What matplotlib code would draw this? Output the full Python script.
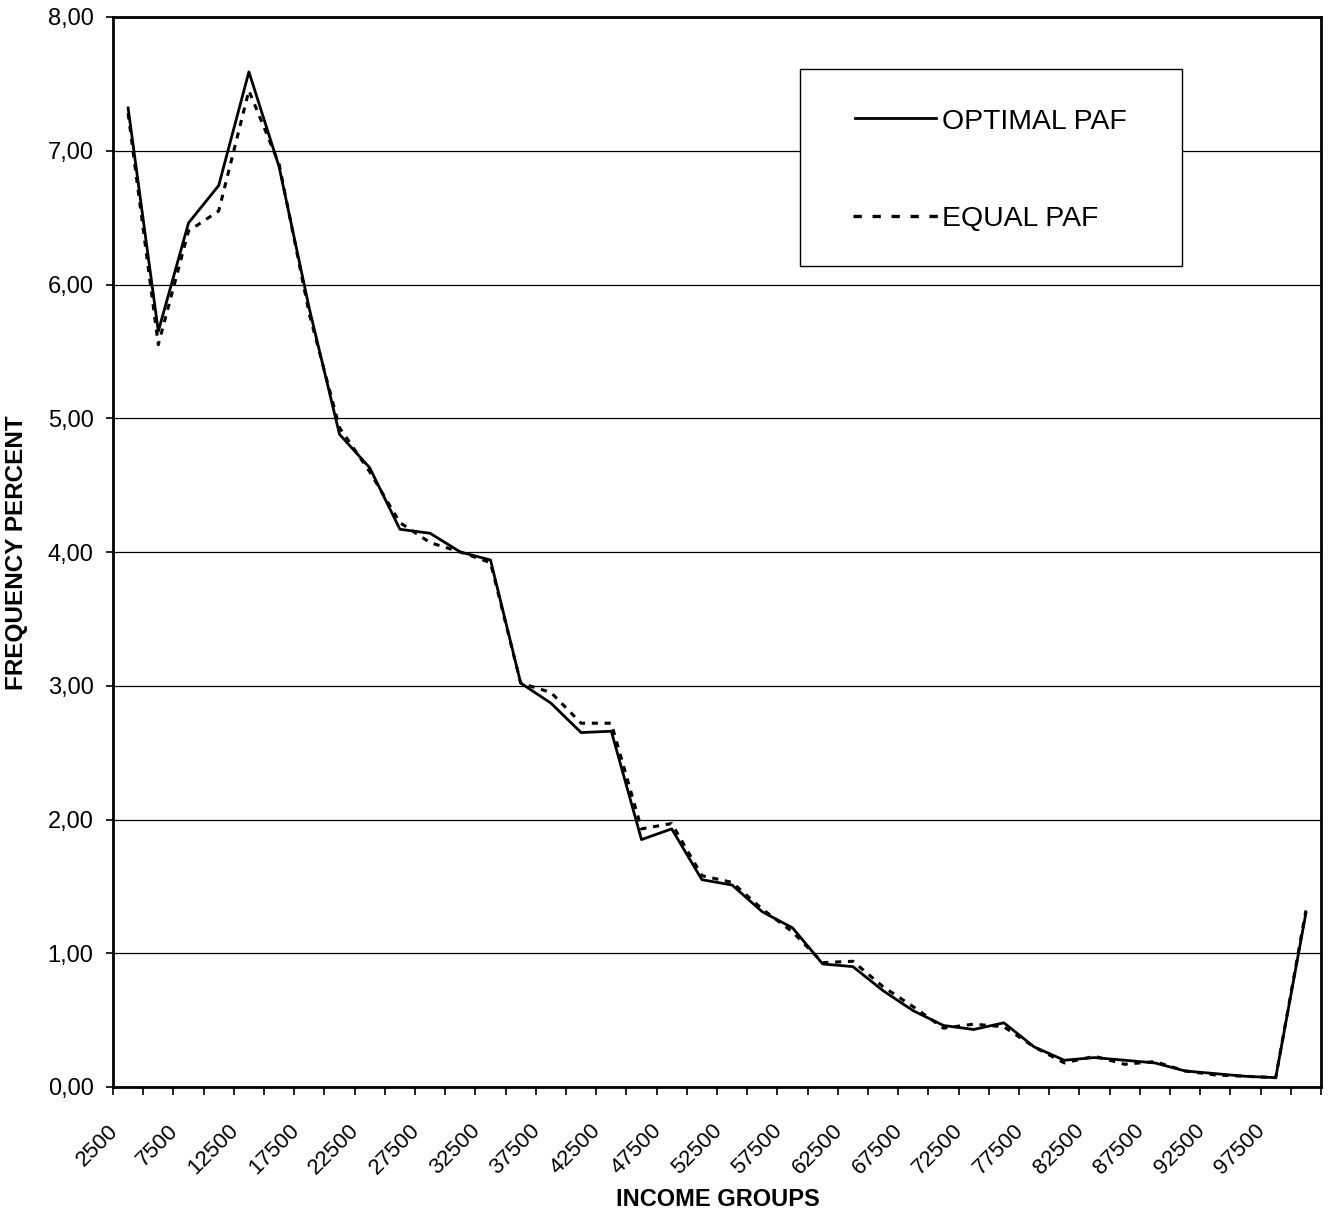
import matplotlib
matplotlib.use("Agg")
import matplotlib.pyplot as plt
from matplotlib.ticker import FixedLocator, FuncFormatter
from matplotlib.lines import Line2D
from matplotlib.patches import Rectangle
from matplotlib.transforms import ScaledTranslation, Affine2D

plt.rcParams['font.family'] = ['Liberation Sans', 'DejaVu Sans']

income_groups = [2500 * (i + 1) for i in range(40)]
optimal_paf = [7.32, 5.65, 6.46, 6.74, 7.59, 6.88, 5.82, 4.88, 4.63, 4.17,
               4.14, 4.00, 3.94, 3.02, 2.87, 2.65, 2.66, 1.85, 1.93, 1.55,
               1.51, 1.31, 1.19, 0.92, 0.90, 0.72, 0.57, 0.46, 0.43, 0.48,
               0.30, 0.20, 0.22, 0.20, 0.18, 0.12, 0.10, 0.08, 0.07, 1.30]
equal_paf = [7.28, 5.55, 6.40, 6.55, 7.45, 6.90, 5.78, 4.93, 4.60, 4.22,
             4.07, 4.00, 3.92, 3.02, 2.95, 2.72, 2.72, 1.93, 1.97, 1.58,
             1.53, 1.33, 1.16, 0.93, 0.94, 0.75, 0.60, 0.44, 0.47, 0.45,
             0.30, 0.18, 0.23, 0.17, 0.19, 0.12, 0.09, 0.08, 0.07, 1.32]
y_ticks = [0, 1, 2, 3, 4, 5, 6, 7, 8]
series_labels = ['OPTIMAL PAF', 'EQUAL PAF']

W, H = 1329, 1214
fig = plt.figure(figsize=(W / 100, H / 100), dpi=100)
ax = fig.add_axes([113 / W, (H - 1087) / H, 1208 / W, 1070 / H])

dash = (0, (2, 2.2))
x = list(range(len(income_groups)))
ax.plot(x, equal_paf, color='black', lw=2.2, linestyle=dash, zorder=3)
ax.plot(x, optimal_paf, color='black', lw=2.0, zorder=4)

ax.set_xlim(-0.5, len(income_groups) - 0.5)
ax.set_ylim(0, 8)

ax.set_yticks(y_ticks)
ax.yaxis.set_major_formatter(FuncFormatter(lambda v, p: f"{v:.2f}".replace('.', ',')))
ax.tick_params(axis='y', direction='out', length=5, width=1.2, labelsize=17, pad=9)
ax.grid(axis='y', color='black', lw=0.9)
ax.set_axisbelow(True)

major = [i for i in x if i % 2 == 0]
ax.set_xticks(major)
ax.set_xticklabels([str(income_groups[i]) for i in major], rotation=45,
                   ha='right', va='top', rotation_mode='anchor', fontsize=16)
ax.tick_params(axis='x', which='major', length=0, pad=24)
offset = ScaledTranslation(-21 / 100, 0, fig.dpi_scale_trans)
for lab in ax.get_xticklabels():
    lab.set_transform(lab.get_transform() + offset)
ax.xaxis.set_minor_locator(FixedLocator([i - 0.5 for i in range(len(income_groups) + 1)]))
ax.tick_params(axis='x', which='minor', direction='out', length=6, width=1.2)

for s in ax.spines.values():
    s.set_linewidth(2)
    s.set_color('black')

fig.text(17 / W, 1 - 553 / H, 'FREQUENCY PERCENT', rotation=90, ha='center', va='center',
         fontsize=17.5, fontweight='bold')
fig.text(718 / W, 1 - 1200 / H, 'INCOME GROUPS', ha='center', va='center',
         fontsize=17, fontweight='bold')

# legend drawn manually in figure pixel coordinates
px = Affine2D().scale(1 / W, 1 / H) + fig.transFigure
def fy(y):
    return H - y
fig.patches.append(Rectangle((800, fy(266)), 382, 197, transform=px, facecolor='white',
                             edgecolor='black', lw=1.0, zorder=5))
fig.lines.append(Line2D([855, 936], [fy(118), fy(118)], transform=px, color='black', lw=2.0, zorder=6))
fig.lines.append(Line2D([853, 938], [fy(216), fy(216)], transform=px, color='black', lw=2.4,
                        linestyle=(0, (2.5, 3.2)), zorder=6))
fig.text(942 / W, 1 - 129 / H, series_labels[0], ha='left', va='baseline', fontsize=20.4, zorder=7)
fig.text(942 / W, 1 - 226 / H, series_labels[1], ha='left', va='baseline', fontsize=20.4, zorder=7)

fig.savefig('out.png', dpi=100)
